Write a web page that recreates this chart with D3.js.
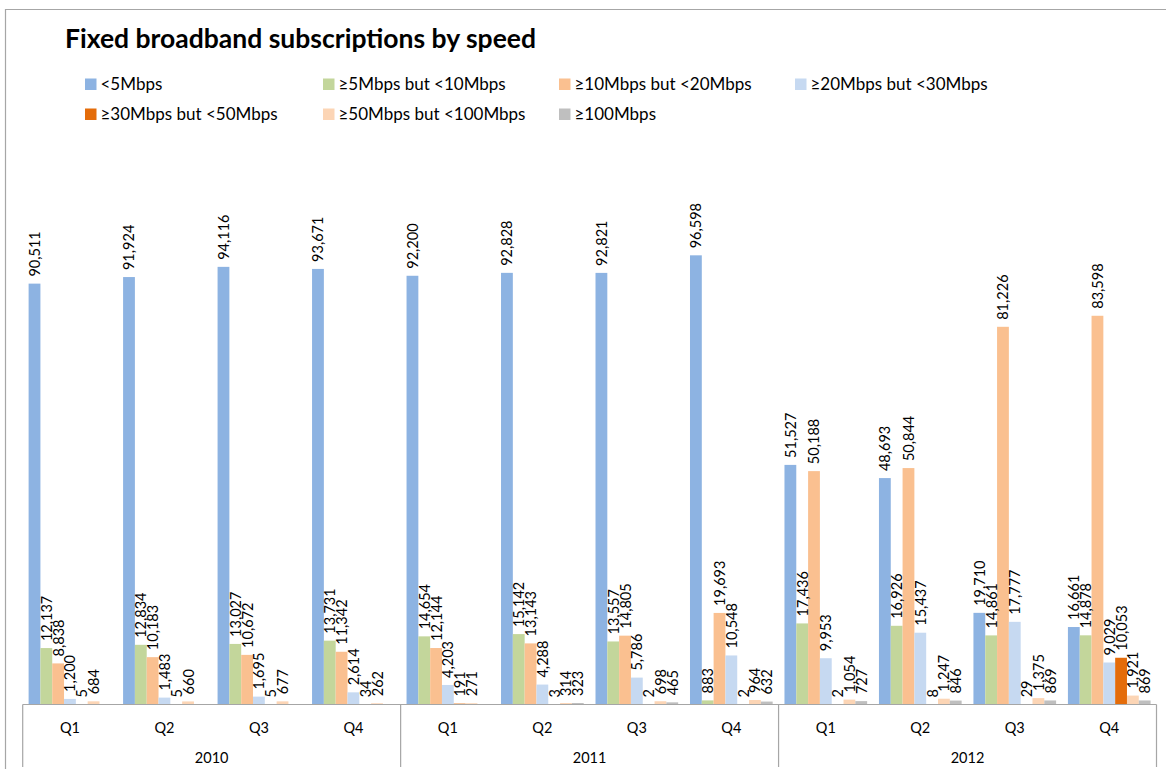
<!DOCTYPE html>
<html>
<head>
<meta charset="utf-8">
<script src="https://cdn.jsdelivr.net/npm/d3@7"></script>
<style>
  html, body { margin: 0; padding: 0; background: #fff; }
  svg { display: block; font-family: Lato, "Open Sans", sans-serif; }
</style>
</head>
<body>
<svg id="chart" width="1166" height="769"></svg>
<script>
// Fixed broadband subscriptions by speed, quarterly 2010-2012
const years = ["2010", "2011", "2012"];
const quarters = ["Q1", "Q2", "Q3", "Q4"];
const seriesNames = [
  "<5Mbps",
  "≥5Mbps but <10Mbps",
  "≥10Mbps but <20Mbps",
  "≥20Mbps but <30Mbps",
  "≥30Mbps but <50Mbps",
  "≥50Mbps but <100Mbps",
  "≥100Mbps"
];
const seriesColors = ["#8DB3E2", "#C3D69B", "#FAC090", "#C6D9F1", "#E46C0A", "#FCD5B5", "#BFBFBF"];

// one array per speed band, 12 quarters each (null = no value reported)
const lt5      = [90511, 91924, 94116, 93671, 92200, 92828, 92821, 96598, 51527, 48693, 19710, 16661];
const s5to10   = [12137, 12834, 13027, 13731, 14654, 15142, 13557,   883, 17436, 16926, 14861, 14878];
const s10to20  = [ 8838, 10183, 10672, 11342, 12144, 13143, 14805, 19693, 50188, 50844, 81226, 83598];
const s20to30  = [ 1200,  1483,  1695,  2614,  4203,  4288,  5786, 10548,  9953, 15437, 17777,  9029];
const s30to50  = [    5,     5,     5,    34,   191,     3,     2,     2,     2,     8,    29, 10053];
const s50to100 = [  684,   660,   677,   262,   271,   314,   698,   964,  1054,  1247,  1375,  1921];
const ge100    = [ null,  null,  null,  null,  null,   323,   465,   632,   727,   846,   869,   869];

const seriesValues = [lt5, s5to10, s10to20, s20to30, s30to50, s50to100, ge100];

const categories = [];
years.forEach(y => quarters.forEach(q => categories.push({ key: y + "-" + q, year: y, quarter: q })));

const svg = d3.select("#chart");

// outer frame
svg.append("path")
  .attr("d", "M5.5,769 V9.5 H1166")
  .attr("fill", "none")
  .attr("stroke", "#a6a6a6")
  .attr("stroke-width", 1.2);

// title
svg.append("text")
  .attr("x", 65).attr("y", 48)
  .attr("font-size", 26.5).attr("font-weight", "bold")
  .attr("fill", "#000")
  .text("Fixed broadband subscriptions by speed");

// legend: 4 columns, 2 rows
const legendCols = [85, 323, 559, 795];
const legendRows = [78.5, 108.5];
const legend = svg.append("g");
seriesNames.forEach((name, i) => {
  const lx = legendCols[i % 4];
  const ly = legendRows[Math.floor(i / 4)];
  legend.append("rect").attr("x", lx).attr("y", ly).attr("width", 11.5).attr("height", 11.5)
    .attr("fill", seriesColors[i]);
  legend.append("text").attr("x", lx + 15.5).attr("y", ly + 11)
    .attr("font-size", 17).attr("fill", "#000").text(name);
});

// scales
const x0 = d3.scaleBand()
  .domain(categories.map(c => c.key))
  .range([22.7, 1156.5])
  .paddingInner(0).paddingOuter(0);

const x1 = d3.scaleBand()
  .domain(d3.range(seriesNames.length))
  .range([0, x0.bandwidth()])
  .paddingInner(0).paddingOuter(0.5);

const y = d3.scaleLinear().domain([0, 100000]).range([704.5, 239.5]);

const fmt = d3.format(",");

// bars and value labels
const groups = svg.append("g").selectAll("g")
  .data(categories)
  .join("g")
  .attr("transform", d => `translate(${x0(d.key)},0)`);

groups.each(function (c, ci) {
  const g = d3.select(this);
  const vals = seriesValues.map((arr, si) => ({ si, v: arr[ci] })).filter(d => d.v != null);
  g.selectAll("rect")
    .data(vals)
    .join("rect")
    .attr("x", d => x1(d.si))
    .attr("y", d => y(d.v))
    .attr("width", x1.bandwidth())
    .attr("height", d => y(0) - y(d.v))
    .attr("fill", d => seriesColors[d.si]);
  g.selectAll("text")
    .data(vals)
    .join("text")
    .attr("transform", d => `translate(${x1(d.si) + x1.bandwidth() / 2},${y(d.v) - 7}) rotate(-90)`)
    .attr("text-anchor", "start")
    .attr("dominant-baseline", "central")
    .attr("font-size", 14.5)
    .attr("fill", "#000")
    .text(d => fmt(d.v));
});

// category axis (two levels: quarter and year)
const axis = svg.append("g");
axis.append("line")
  .attr("x1", x0.range()[0]).attr("x2", x0.range()[1])
  .attr("y1", 704.5).attr("y2", 704.5)
  .attr("stroke", "#a6a6a6").attr("stroke-width", 1.2);

const yearBounds = years.map(yr => {
  const keys = categories.filter(c => c.year === yr).map(c => c.key);
  return { year: yr, x0: x0(keys[0]), x1: x0(keys[keys.length - 1]) + x0.bandwidth() };
});
const sepX = [yearBounds[0].x0].concat(yearBounds.map(b => b.x1));
axis.selectAll("line.sep")
  .data(sepX)
  .join("line")
  .attr("class", "sep")
  .attr("x1", d => d).attr("x2", d => d)
  .attr("y1", 704.5).attr("y2", 767)
  .attr("stroke", "#a6a6a6").attr("stroke-width", 1.2);

axis.selectAll("text.q")
  .data(categories)
  .join("text")
  .attr("class", "q")
  .attr("x", d => x0(d.key) + x0.bandwidth() / 2)
  .attr("y", 733)
  .attr("text-anchor", "middle")
  .attr("font-size", 14.5)
  .attr("fill", "#000")
  .text(d => d.quarter);

axis.selectAll("text.yr")
  .data(yearBounds)
  .join("text")
  .attr("class", "yr")
  .attr("x", d => (d.x0 + d.x1) / 2)
  .attr("y", 763)
  .attr("text-anchor", "middle")
  .attr("font-size", 14.5)
  .attr("fill", "#000")
  .text(d => d.year);
</script>
</body>
</html>
